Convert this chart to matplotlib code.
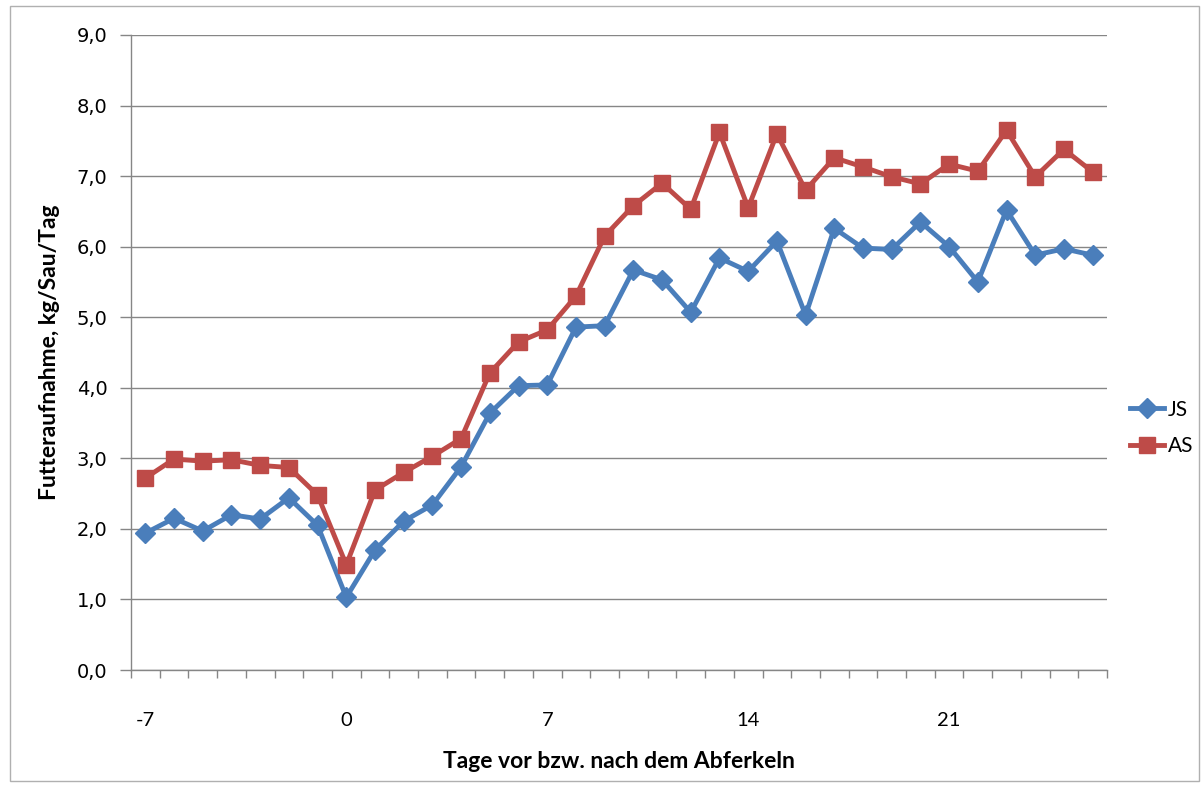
import matplotlib
matplotlib.use("Agg")
import matplotlib.pyplot as plt
from matplotlib.patches import Rectangle
import numpy as np

days = list(range(-7, 27))
js = [1.94, 2.15, 1.97, 2.20, 2.14, 2.44, 2.05, 1.03, 1.70, 2.11, 2.34, 2.88,
      3.64, 4.03, 4.04, 4.86, 4.88, 5.67, 5.53, 5.07, 5.84, 5.65, 6.08, 5.03,
      6.26, 5.98, 5.96, 6.35, 6.00, 5.50, 6.52, 5.88, 5.97, 5.88]
as_ = [2.72, 2.99, 2.96, 2.98, 2.90, 2.87, 2.48, 1.49, 2.55, 2.80, 3.03, 3.28,
       4.21, 4.65, 4.82, 5.30, 6.15, 6.58, 6.90, 6.53, 7.62, 6.55, 7.60, 6.80,
       7.26, 7.13, 6.99, 6.89, 7.17, 7.07, 7.65, 6.99, 7.38, 7.06]
xticks = [-7, 0, 7, 14, 21]
yticks = np.arange(0, 10, 1)
series_names = ["JS", "AS"]
colors = ["#4A7EBB", "#BE4B48"]

fig = plt.figure(figsize=(12.01, 7.87), dpi=100)
ax = fig.add_axes([131/1201, 1-670/787, (1107-131)/1201, (670-35)/787])

fig.patches.append(Rectangle((10/1201, 6/787), (1199-10)/1201, (781-6)/787,
                             transform=fig.transFigure, fill=False,
                             edgecolor="#B0B0B0", linewidth=1.0))

ax.plot(days, js, color=colors[0], lw=3.5, marker="D", markersize=10,
        label=series_names[0], solid_joinstyle="round")
ax.plot(days, as_, color=colors[1], lw=3.5, marker="s", markersize=11,
        label=series_names[1], solid_joinstyle="round")

ax.set_xlim(-7.5, 26.5)
ax.set_ylim(0, 9)
ax.set_yticks(yticks)
ax.set_yticklabels([f"{v:.1f}".replace(".", ",") for v in yticks],
                   fontfamily="DejaVu Sans", fontsize=14)
ax.set_xticks(xticks)
ax.set_xticklabels([str(v) for v in xticks], fontfamily="Lato", fontsize=14.5)
ax.set_xticks(np.arange(-7.5, 27, 1), minor=True)
ax.tick_params(axis="x", which="major", length=0, pad=30)
ax.tick_params(axis="x", which="minor", length=6, width=1, color="#868686", direction="out")
ax.tick_params(axis="y", which="major", length=8, width=1, color="#868686", direction="out", pad=9)

ax.grid(axis="y", color="#868686", linewidth=1.0)
ax.set_axisbelow(True)
for s in ["top", "right"]:
    ax.spines[s].set_visible(False)
for s in ["left", "bottom"]:
    ax.spines[s].set_color("#868686")
    ax.spines[s].set_linewidth(1.0)

ax.set_xlabel("Tage vor bzw. nach dem Abferkeln", fontfamily="Lato",
              fontweight="bold", fontsize=16.5, labelpad=16)
ax.set_ylabel("Futteraufnahme, kg/Sau/Tag", fontfamily="Lato",
              fontweight="bold", fontsize=16.5, labelpad=12)

leg = fig.legend(loc="center left", bbox_to_anchor=(1122/1201, 1-428/787),
                 frameon=False, prop={"family": "Lato", "size": 15},
                 handlelength=1.6, handletextpad=0.2, labelspacing=0.8,
                 borderaxespad=0)

fig.savefig("out.png", dpi=100)
